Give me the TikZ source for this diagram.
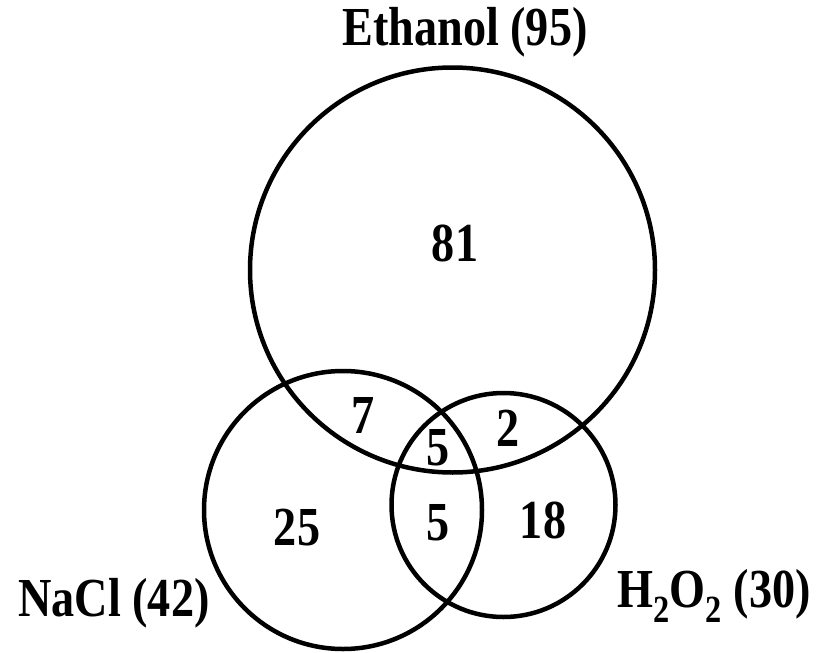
\documentclass[tikz,border=0pt]{standalone}
\usepackage{fontspec}
\setmainfont{Liberation Serif}
\newcommand{\talltext}[1]{\scalebox{1.05}[1.25]{#1}}
\begin{document}
\begin{tikzpicture}[x=1pt,y=-1pt,
  setcircle/.style={draw=black,line width=4.5pt,circle,inner sep=0pt},
  lbl/.style={font=\fontsize{44}{44}\selectfont\bfseries,inner sep=0pt},
  num/.style={font=\fontsize{44}{44}\selectfont\bfseries,inner sep=0pt}]
\useasboundingbox (0,0) rectangle (822,653);
\node[setcircle,minimum size=405pt] (eth) at (452.5,270) {};
\node[setcircle,minimum size=278pt] (nacl) at (343,510) {};
\node[setcircle,minimum size=224pt] (h2o2) at (503.5,505) {};
\node[lbl] (leth) at (465,32) {\talltext{Ethanol (95)}};
\node[lbl] (lnacl) at (114,603) {\talltext{NaCl (42)}};
\node[lbl] (lh2o2) at (714,596) {\talltext{H\textsubscript{2}O\textsubscript{2} (30)}};
\node[num] (n81) at (455,243) {\talltext{81}};
\node[num] (n7) at (363,415) {\talltext{7}};
\node[num] (n5a) at (438,448) {\talltext{5}};
\node[num] (n2) at (508,428) {\talltext{2}};
\node[num] (n25) at (297,528) {\talltext{25}};
\node[num] (n5b) at (438,523) {\talltext{5}};
\node[num] (n18) at (543,520) {\talltext{18}};
\end{tikzpicture}
\end{document}
